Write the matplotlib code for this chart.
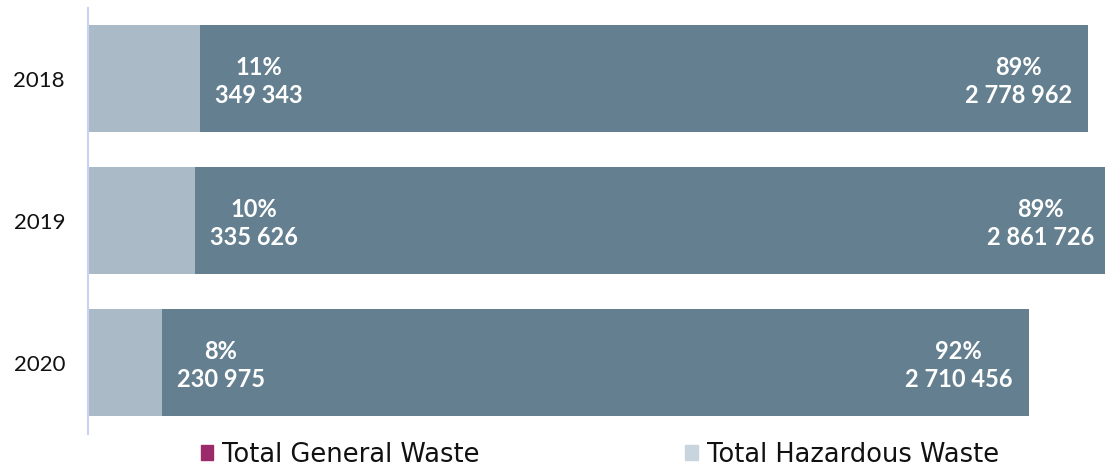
import matplotlib
matplotlib.use("Agg")
import matplotlib.pyplot as plt
from matplotlib.patches import Patch

years = ["2018", "2019", "2020"]
hazardous = [349343, 335626, 230975]
general = [2778962, 2861726, 2710456]
haz_pct = ["11%", "10%", "8%"]
gen_pct = ["89%", "89%", "92%"]
legend_labels = ["Total General Waste", "Total Hazardous Waste"]

plt.rcParams['font.family'] = ['Lato', 'DejaVu Sans']

def fmt(v):
    return f"{v:,}".replace(",", " ")

fig = plt.figure(figsize=(11.05, 4.68), dpi=100)
ax = fig.add_axes([88/1105, 1 - 433.5/468, 1 - 88/1105, 426/468])

c_haz = "#aabac6"
c_gen = "#647f8f"
y = list(range(len(years)))
ax.barh(y, hazardous, height=0.75, color=c_haz)
ax.barh(y, general, left=hazardous, height=0.75, color=c_gen)

for i in y:
    h = hazardous[i]
    t = hazardous[i] + general[i]
    for xv, off, pct, val in [(h, 59, haz_pct[i], hazardous[i]), (t, -70, gen_pct[i], general[i])]:
        ax.annotate(pct, xy=(xv, i), xytext=(off, 11), textcoords='offset pixels',
                    ha='center', va='center', color='white', fontsize=17,
                    fontweight='bold', annotation_clip=False)
        ax.annotate(fmt(val), xy=(xv, i), xytext=(off, -17), textcoords='offset pixels',
                    ha='center', va='center', color='white', fontsize=17,
                    fontweight='bold', annotation_clip=False)

ax.set_xlim(0, 3.18e6)
ax.set_ylim(2.5, -0.5)
ax.set_yticks(y)
ax.set_yticklabels(years, fontsize=16, color='#111111')
ax.tick_params(axis='y', length=0, pad=16.5)
ax.set_xticks([])
for s in ['top', 'right', 'bottom']:
    ax.spines[s].set_visible(False)
ax.spines['left'].set_color('#c9d1f5')
ax.spines['left'].set_linewidth(1.5)

handles = [Patch(color="#9b2a6b"), Patch(color="#c8d4de")]
fig.legend(handles, legend_labels, loc='center', bbox_to_anchor=(0.543, 0.028),
           ncol=2, frameon=False, handlelength=0.5, handleheight=0.5,
           handletextpad=0.35, columnspacing=8.0, labelcolor='#111111',
           prop={'family': 'DejaVu Sans', 'size': 18.5})

fig.savefig("out.png", dpi=100)
